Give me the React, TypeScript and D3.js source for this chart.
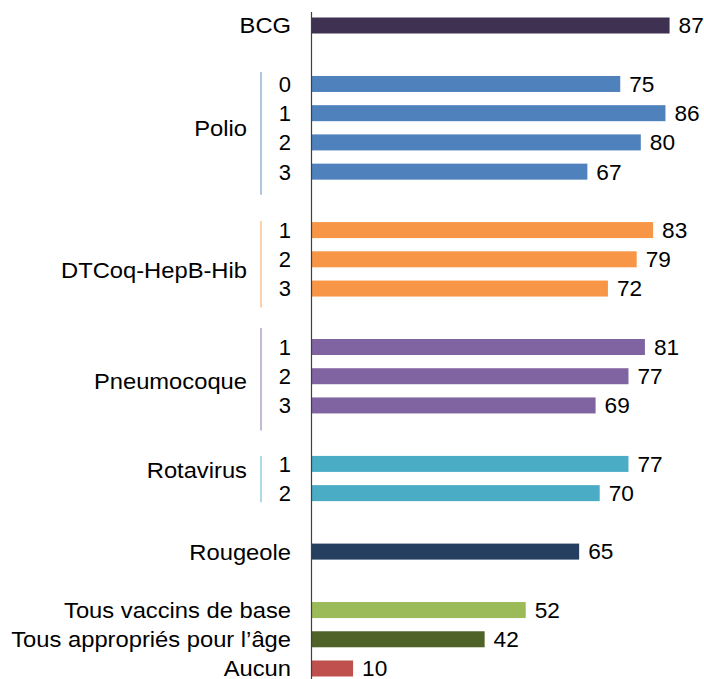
import React from "react";
import * as d3 from "d3";

const groupNames = ["BCG", "Polio", "DTCoq-HepB-Hib", "Pneumocoque", "Rotavirus", "Rougeole", "Tous vaccins de base", "Tous appropriés pour l’âge", "Aucun"];
const doseLabels: string[][] = [[""], ["0", "1", "2", "3"], ["1", "2", "3"], ["1", "2", "3"], ["1", "2"], [""], [""], [""], [""]];
const groupValues: number[][] = [[87], [75, 86, 80, 67], [83, 79, 72], [81, 77, 69], [77, 70], [65], [52], [42], [10]];
// a blank slot follows each group except the last three which are stacked
const gapAfter = [true, true, true, true, true, true, false, false, false];
const barColors = ["#3F3151", "#4F81BD", "#F79646", "#8064A2", "#4BACC6", "#243F60", "#9BBB59", "#4F6228", "#C0504D"];
const lineColors = ["", "#95B3D7", "#FAC090", "#B3A2C7", "#93CDDD", "", "", "", ""];

// layout tweaks (pixels) for group name placement and bracket line extents
const nameShift = [0, 0, 11, 5, -8, 0, 0, 0, 0];
const lineTop = [0, 12, 9, 19, 8, 0, 0, 0, 0];
const lineBottom = [0, 23, 19, 25, 9, 0, 0, 0, 0];

type Row = { g: number; d: number; label: string; value: number; slot: number };

export default function App() {
  const W = 704, H = 679;
  const rows: Row[] = [];
  let slot = 0;
  groupNames.forEach((_, g) => {
    groupValues[g].forEach((v, d) => {
      rows.push({ g, d, label: doseLabels[g][d], value: v, slot });
      slot++;
    });
    if (gapAfter[g]) slot++;
  });
  const nSlots = slot;
  const y = d3.scalePoint<number>().domain(d3.range(nSlots)).range([25.5, 668.5]);
  const x = d3.scaleLinear().domain([0, 100]).range([312, 723]);
  const barH = 16;
  const font = "Liberation Sans, Arial, sans-serif";
  const fs = 22;
  const stretch = 1.08;
  const axisX = 311.5;

  return (
    <svg width={W} height={H} style={{ position: "absolute", left: 0, top: 0 }} fontFamily={font}>
      <rect width={W} height={H} fill="#fff" />
      {rows.map((r, i) => (
        <g key={i}>
          <rect x={x(0)} y={(y(r.slot) as number) - barH / 2} width={x(r.value) - x(0)} height={barH} fill={barColors[r.g]} />
          <text x={x(r.value) + 9} y={y(r.slot) as number} dy="0.36em" fontSize={fs} fill="#000"
            transform={`translate(${x(r.value) + 9},${y(r.slot)}) scale(1.03,1) translate(${-(x(r.value) + 9)},${-(y(r.slot) as number)})`}>{r.value}</text>
          {r.label !== "" && (
            <text x={291} y={y(r.slot) as number} dy="0.36em" fontSize={fs} textAnchor="end" fill="#000">{r.label}</text>
          )}
        </g>
      ))}
      {groupNames.map((name, g) => {
        const gr = rows.filter((r) => r.g === g);
        const y0 = y(gr[0].slot) as number;
        const y1 = y(gr[gr.length - 1].slot) as number;
        const grouped = gr.length > 1;
        const tx = grouped ? 247 : 291;
        const ty = (y0 + y1) / 2 + nameShift[g];
        return (
          <g key={name}>
            <text transform={`translate(${tx},${ty}) scale(${stretch},1)`} x={0} y={0} dy="0.36em" fontSize={fs} textAnchor="end" fill="#000">{name}</text>
            {grouped && (
              <line x1={261} x2={261} y1={y0 - lineTop[g]} y2={y1 + lineBottom[g]} stroke={lineColors[g]} strokeWidth={1.5} />
            )}
          </g>
        );
      })}
      <line x1={axisX} x2={axisX} y1={12} y2={H} stroke="#404040" strokeWidth={1.2} />
    </svg>
  );
}
